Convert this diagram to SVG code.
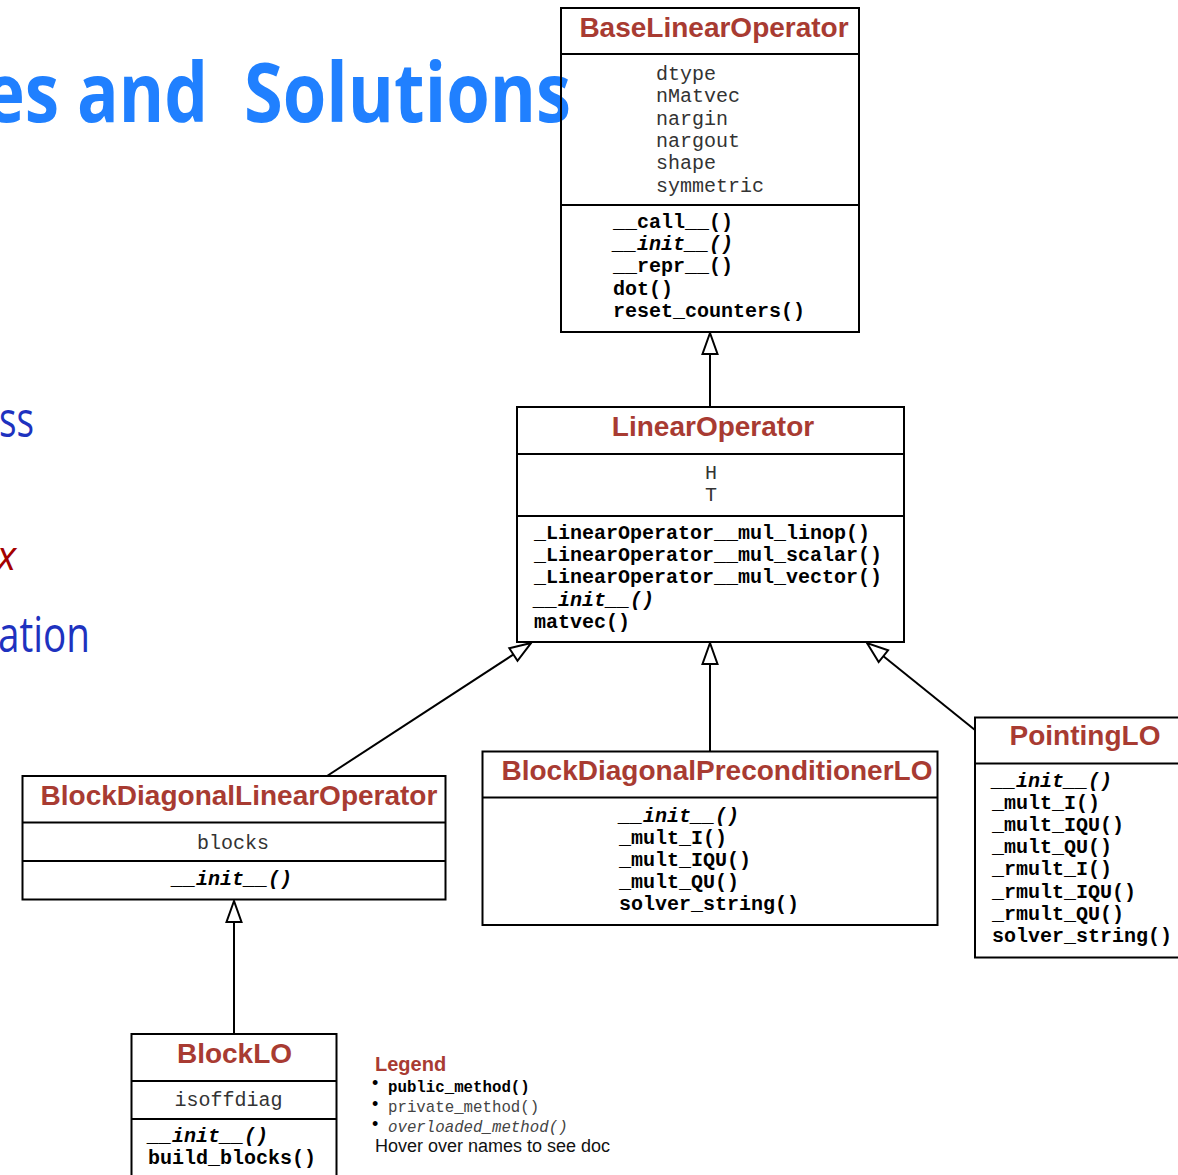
<svg xmlns="http://www.w3.org/2000/svg" width="1178" height="1175" viewBox="0 0 1178 1175">
  <style>
    .box { fill: none; stroke: #000; stroke-width: 2; }
    .sep { stroke: #000; stroke-width: 2; }
    .title { font-family: "Liberation Sans", Arial, sans-serif; font-weight: bold; font-size: 28px; fill: #a83b32; text-anchor: middle; }
    .attr { font-family: "Liberation Mono", "Courier New", monospace; font-size: 20px; fill: #333; }
    .meth { font-family: "Liberation Mono", "Courier New", monospace; font-size: 20px; font-weight: bold; fill: #000; }
    .ovl { font-style: italic; }
    .edge { fill: none; stroke: #000; stroke-width: 2; }
    .slide { font-family: "Open Sans", "DejaVu Sans", sans-serif; }
    .leg { font-family: "Liberation Mono", "Courier New", monospace; font-size: 15.75px; }
    .bullet { font-family: "Liberation Sans", Arial, sans-serif; font-size: 18px; fill: #000; }
  </style>
  <defs>
    <marker id="inherit" viewBox="-24 -10 26 20" refX="0" refY="0" markerWidth="26" markerHeight="20" markerUnits="userSpaceOnUse" orient="auto">
      <path d="M0,0 L-21,-7.5 L-21,7.5 Z" fill="#fff" stroke="#000" stroke-width="2" stroke-linejoin="miter"/>
    </marker>
  </defs>

  <!-- slide text behind the diagram -->
  <g id="slide-text">
    <text class="slide" x="-16" y="122" font-size="82" font-weight="700" fill="#2080ff" textLength="224" lengthAdjust="spacingAndGlyphs">es and</text>
    <text class="slide" x="244" y="122" font-size="82" font-weight="700" fill="#2080ff" textLength="327" lengthAdjust="spacingAndGlyphs">Solutions</text>
    <text class="slide" x="-1" y="437" font-size="50" fill="#1e32bf" textLength="35" lengthAdjust="spacingAndGlyphs">ss</text>
    <text class="slide" x="-3" y="570" font-size="40" font-style="italic" fill="#a40000">x</text>
    <text class="slide" x="-2" y="652" font-size="50" fill="#1e32bf" textLength="92" lengthAdjust="spacingAndGlyphs">ation</text>
  </g>

  <!-- inheritance connectors -->
  <g id="connectors">
    <line class="edge" x1="710" y1="407" x2="710" y2="333" marker-end="url(#inherit)"/>
    <line class="edge" x1="327" y1="776" x2="531" y2="643" marker-end="url(#inherit)"/>
    <line class="edge" x1="710" y1="751" x2="710" y2="643" marker-end="url(#inherit)"/>
    <line class="edge" x1="975" y1="730" x2="867" y2="643" marker-end="url(#inherit)"/>
    <line class="edge" x1="234" y1="1034" x2="234" y2="901" marker-end="url(#inherit)"/>
  </g>

  <g id="BaseLinearOperator">
    <rect class="box" x="561" y="8" width="298" height="324"/>
    <line class="sep" x1="561" y1="54" x2="859" y2="54"/>
    <line class="sep" x1="561" y1="205" x2="859" y2="205"/>
    <text class="title" x="714" y="37">BaseLinearOperator</text>
    <text class="attr" x="656" y="80">dtype</text>
    <text class="attr" x="656" y="102.3">nMatvec</text>
    <text class="attr" x="656" y="124.6">nargin</text>
    <text class="attr" x="656" y="146.9">nargout</text>
    <text class="attr" x="656" y="169.2">shape</text>
    <text class="attr" x="656" y="191.5">symmetric</text>
    <text class="meth" x="613" y="228">__call__()</text>
    <text class="meth ovl" x="613" y="250.2">__init__()</text>
    <text class="meth" x="613" y="272.4">__repr__()</text>
    <text class="meth" x="613" y="294.6">dot()</text>
    <text class="meth" x="613" y="316.8">reset_counters()</text>
  </g>

  <g id="LinearOperator">
    <rect class="box" x="517" y="407" width="387" height="235"/>
    <line class="sep" x1="517" y1="454" x2="904" y2="454"/>
    <line class="sep" x1="517" y1="516" x2="904" y2="516"/>
    <text class="title" x="713" y="436">LinearOperator</text>
    <text class="attr" x="711" y="479" text-anchor="middle">H</text>
    <text class="attr" x="711" y="501" text-anchor="middle">T</text>
    <text class="meth" x="534" y="539">_LinearOperator__mul_linop()</text>
    <text class="meth" x="534" y="561.2">_LinearOperator__mul_scalar()</text>
    <text class="meth" x="534" y="583.4">_LinearOperator__mul_vector()</text>
    <text class="meth ovl" x="534" y="605.6">__init__()</text>
    <text class="meth" x="534" y="627.8">matvec()</text>
  </g>

  <g id="BlockDiagonalLinearOperator">
    <rect class="box" x="22.5" y="776" width="423" height="123.5"/>
    <line class="sep" x1="22.5" y1="822.5" x2="445.5" y2="822.5"/>
    <line class="sep" x1="22.5" y1="861" x2="445.5" y2="861"/>
    <text class="title" x="239" y="805">BlockDiagonalLinearOperator</text>
    <text class="attr" x="233" y="848.5" text-anchor="middle">blocks</text>
    <text class="meth ovl" x="172" y="885">__init__()</text>
  </g>

  <g id="BlockDiagonalPreconditionerLO">
    <rect class="box" x="482.5" y="751.5" width="455" height="173.5"/>
    <line class="sep" x1="482.5" y1="797.5" x2="937.5" y2="797.5"/>
    <text class="title" x="717" y="780">BlockDiagonalPreconditionerLO</text>
    <text class="meth ovl" x="619" y="822">__init__()</text>
    <text class="meth" x="619" y="844">_mult_I()</text>
    <text class="meth" x="619" y="866">_mult_IQU()</text>
    <text class="meth" x="619" y="888">_mult_QU()</text>
    <text class="meth" x="619" y="910">solver_string()</text>
  </g>

  <g id="PointingLO">
    <rect class="box" x="975" y="717.5" width="220" height="240"/>
    <line class="sep" x1="975" y1="763.5" x2="1195" y2="763.5"/>
    <text class="title" x="1085" y="745">PointingLO</text>
    <text class="meth ovl" x="992" y="787">__init__()</text>
    <text class="meth" x="992" y="809.1">_mult_I()</text>
    <text class="meth" x="992" y="831.2">_mult_IQU()</text>
    <text class="meth" x="992" y="853.3">_mult_QU()</text>
    <text class="meth" x="992" y="875.4">_rmult_I()</text>
    <text class="meth" x="992" y="897.5">_rmult_IQU()</text>
    <text class="meth" x="992" y="919.6">_rmult_QU()</text>
    <text class="meth" x="992" y="941.7">solver_string()</text>
  </g>

  <g id="BlockLO">
    <rect class="box" x="131.5" y="1034" width="205" height="160"/>
    <line class="sep" x1="131.5" y1="1081" x2="336.5" y2="1081"/>
    <line class="sep" x1="131.5" y1="1119" x2="336.5" y2="1119"/>
    <text class="title" x="234.5" y="1063">BlockLO</text>
    <text class="attr" x="228.5" y="1106" text-anchor="middle">isoffdiag</text>
    <text class="meth ovl" x="148" y="1141.5">__init__()</text>
    <text class="meth" x="148" y="1163.5">build_blocks()</text>
  </g>

  <g id="legend">
    <text x="375" y="1071" font-family="Liberation Sans, Arial, sans-serif" font-weight="bold" font-size="20" fill="#a83b32">Legend</text>
    <text class="bullet" x="372" y="1089">•</text>
    <text class="bullet" x="372" y="1109.5">•</text>
    <text class="bullet" x="372" y="1129.5">•</text>
    <text class="leg" x="388" y="1091.7" font-weight="bold" fill="#000">public_method()</text>
    <text class="leg" x="388" y="1112.3" fill="#444">private_method()</text>
    <text class="leg" x="388" y="1132" font-style="italic" fill="#444">overloaded_method()</text>
    <text x="375" y="1152.3" font-family="Liberation Sans, Arial, sans-serif" font-size="18" fill="#111">Hover over names to see doc</text>
  </g>
</svg>
